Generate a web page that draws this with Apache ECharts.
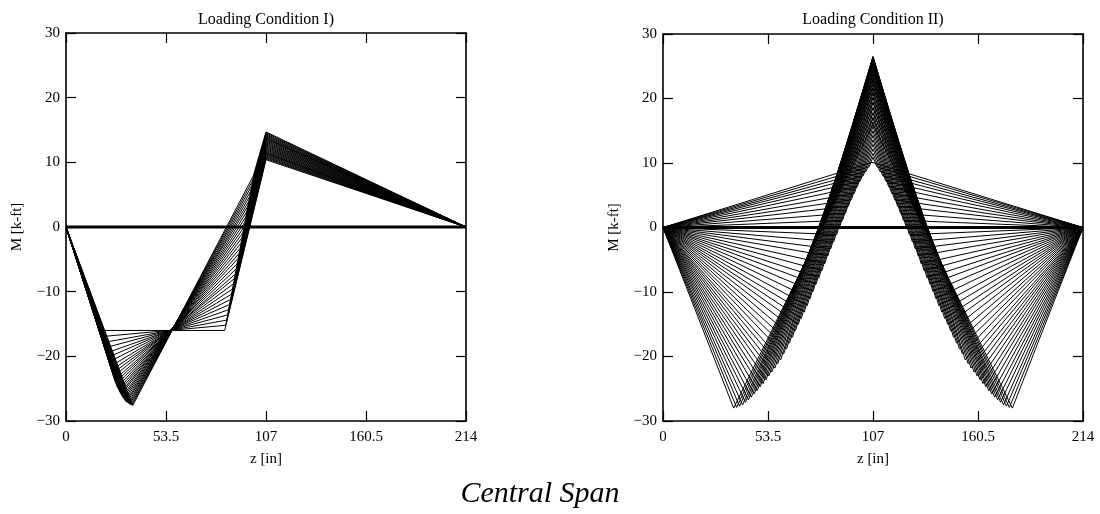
<!DOCTYPE html>
<html><head><meta charset="utf-8">
<script src="https://cdn.jsdelivr.net/npm/echarts/dist/echarts.min.js"></script>
<style>html,body{margin:0;padding:0;background:#fff}#c{width:1100px;height:514px}</style>
</head><body><div id="c"></div>
<script>
// ---------- axis / tick data ----------
const zMin = 0, zMax = 214, zStep = 53.5;
const mMin = -30, mMax = 30, mStep = 10;
const xTickLabels = ['0', '53.5', '107', '160.5', '214'];

// ---------- Loading Condition I (two-point load on left half) ----------
// first load position / moment
const s1I = [20.4, 20.9, 21.4, 21.9, 22.4, 22.9, 23.5, 24.0, 24.5, 25.0, 25.5, 26.0, 26.5, 27.0, 27.5, 28.1,
             28.6, 29.1, 29.6, 30.1, 30.6, 31.1, 31.6, 32.1, 32.6, 33.2, 33.7, 34.2, 34.7, 35.2, 35.7];
const m1I = [-16.0, -16.9, -17.8, -18.6, -19.4, -20.1, -20.8, -21.5, -22.1, -22.6, -23.1, -23.6, -24.0, -24.4, -24.8, -25.1,
             -25.4, -25.7, -25.9, -26.2, -26.4, -26.6, -26.8, -27.0, -27.1, -27.2, -27.3, -27.4, -27.5, -27.55, -27.6];
// second load position / moment
const s2I = [84.9, 85.4, 85.9, 86.4, 86.9, 87.4, 88.0, 88.5, 89.0, 89.5, 90.0, 90.5, 91.0, 91.5, 92.0, 92.6,
             93.1, 93.6, 94.1, 94.6, 95.1, 95.6, 96.1, 96.6, 97.1, 97.7, 98.2, 98.7, 99.2, 99.7, 100.2];
const m2I = [-16.0, -15.2, -14.4, -13.6, -12.8, -12.0, -11.2, -10.4, -9.6, -8.8, -8.0, -7.3, -6.5, -5.7, -4.9, -4.1,
             -3.3, -2.5, -1.7, -0.9, -0.1, 0.7, 1.5, 2.3, 3.1, 3.9, 4.7, 5.5, 6.3, 7.1, 7.9];
// moment at midspan (z = 107)
const pI = [10.4, 10.55, 10.7, 10.85, 11.0, 11.15, 11.3, 11.4, 11.5, 11.65, 11.8, 11.95, 12.1, 12.25, 12.4, 12.55,
            12.7, 12.85, 13.0, 13.15, 13.3, 13.45, 13.6, 13.7, 13.8, 13.95, 14.1, 14.25, 14.4, 14.55, 14.7];

// ---------- Loading Condition II (symmetric loads) ----------
const sII = [36.0, 37.5, 39.0, 40.5, 42.0, 43.5, 45.0, 46.5, 48.0, 49.5, 51.0, 52.5, 54.0, 55.5, 57.0, 58.5,
             60.0, 61.5, 63.0, 64.5, 66.0, 67.5, 69.0, 70.5, 72.0, 73.5, 75.0, 76.5, 78.0, 79.5, 81.0, 82.5,
             84.0, 85.5, 87.0, 88.5, 90.0, 91.5, 93.0, 94.5, 96.0, 97.5, 99.0, 100.5, 102.0, 103.5, 105.0, 106.5];
const mII = [-28.0, -27.9, -27.7, -27.5, -27.1, -26.7, -26.3, -25.8, -25.3, -24.7, -24.2, -23.6, -23.0, -22.4, -21.8, -21.1,
             -20.5, -19.6, -18.8, -17.9, -17.0, -16.0, -15.0, -14.1, -13.1, -12.1, -11.0, -9.9, -8.8, -7.8, -6.7, -5.6,
             -4.4, -3.3, -2.2, -1.1, 0.0, 1.1, 2.2, 3.3, 4.3, 5.3, 6.3, 7.2, 8.0, 8.7, 9.4, 10.1];
const pII = [16.0, 16.9, 17.8, 18.6, 19.4, 20.2, 21.0, 21.7, 22.4, 23.0, 23.7, 24.3, 24.8, 25.3, 25.7, 26.1,
             26.4, 26.5, 26.5, 26.4, 26.3, 26.1, 25.9, 25.6, 25.3, 24.9, 24.4, 23.9, 23.4, 22.8, 22.2, 21.5,
             20.8, 20.1, 19.4, 18.6, 17.8, 17.1, 16.4, 15.7, 15.0, 14.3, 13.6, 12.9, 12.2, 11.5, 10.9, 10.3];

const zMid = 107;
const zeroLineZ = [0, 214];
const zeroLineM = [0, 0];

// ---------- build ----------
const FONT = '"Liberation Serif", "Times New Roman", serif';
const BLACK = '#000';

function fmtY(v) { return v < 0 ? '\u2212' + Math.abs(v) : String(v); }

function xAx(gi, pos) {
  const bottom = pos === 'bottom';
  return {
    type: 'value', gridIndex: gi, position: pos, min: zMin, max: zMax, interval: zStep,
    axisLine: { show: true, onZero: false, lineStyle: { color: BLACK, width: 1.6 } },
    axisTick: { show: true, inside: true, length: 10, lineStyle: { color: BLACK, width: 1.2 } },
    axisLabel: { show: bottom, color: BLACK, fontFamily: FONT, fontSize: 15, margin: 9,
                 showMinLabel: true, showMaxLabel: true,
                 formatter: v => xTickLabels[Math.round((v - zMin) / zStep)] },
    splitLine: { show: false },
    name: bottom ? 'z [in]' : '', nameLocation: 'middle', nameGap: 31,
    nameTextStyle: { color: BLACK, fontFamily: FONT, fontSize: 15 }
  };
}
function yAx(gi, pos) {
  const left = pos === 'left';
  return {
    type: 'value', gridIndex: gi, position: pos, min: mMin, max: mMax, interval: mStep,
    axisLine: { show: true, onZero: false, lineStyle: { color: BLACK, width: 1.6 } },
    axisTick: { show: true, inside: true, length: 10, lineStyle: { color: BLACK, width: 1.2 } },
    axisLabel: { show: left, color: BLACK, fontFamily: FONT, fontSize: 15, margin: 6, formatter: fmtY },
    splitLine: { show: false },
    name: left ? 'M [k-ft]' : '', nameLocation: 'middle', nameGap: 41, nameRotate: 90,
    nameTextStyle: { color: BLACK, fontFamily: FONT, fontSize: 15 }
  };
}

const series = [];
function addLine(pts, xi, yi, w) {
  series.push({
    type: 'line', xAxisIndex: xi, yAxisIndex: yi, data: pts, symbol: 'none', silent: true,
    lineStyle: { color: BLACK, width: w || 1 }, animation: false
  });
}
// panel I
for (let i = 0; i < s1I.length; i++) {
  addLine([[0, 0], [s1I[i], m1I[i]], [s2I[i], m2I[i]], [zMid, pI[i]], [zMax, 0]], 0, 0);
}
addLine(zeroLineZ.map((z, k) => [z, zeroLineM[k]]), 0, 0, 2.8);
// panel II
for (let i = 0; i < sII.length; i++) {
  addLine([[0, 0], [sII[i], mII[i]], [zMid, pII[i]], [zMax - sII[i], mII[i]], [zMax, 0]], 2, 2);
}
addLine(zeroLineZ.map((z, k) => [z, zeroLineM[k]]), 2, 2, 2.8);

const option = {
  animation: false,
  backgroundColor: '#fff',
  grid: [
    { left: 66, top: 33, width: 400, height: 388 },
    { left: 663, top: 34, width: 420, height: 387 }
  ],
  xAxis: [xAx(0, 'bottom'), xAx(0, 'top'), xAx(1, 'bottom'), xAx(1, 'top')],
  yAxis: [yAx(0, 'left'), yAx(0, 'right'), yAx(1, 'left'), yAx(1, 'right')],
  graphic: [
    { type: 'text', x: 266, y: 20, style: { text: 'Loading Condition I)', align: 'center', verticalAlign: 'middle',
      fontFamily: FONT, fontSize: 16, fill: BLACK } },
    { type: 'text', x: 873, y: 20, style: { text: 'Loading Condition II)', align: 'center', verticalAlign: 'middle',
      fontFamily: FONT, fontSize: 16, fill: BLACK } },
    { type: 'text', x: 540, y: 494, style: { text: 'Central Span', align: 'center', verticalAlign: 'middle',
      fontFamily: FONT, fontSize: 30, fontStyle: 'italic', fill: BLACK } }
  ],
  series: series
};
const chart = echarts.init(document.getElementById('c'), null, { renderer: 'canvas' });
chart.setOption(option);
</script></body></html>
